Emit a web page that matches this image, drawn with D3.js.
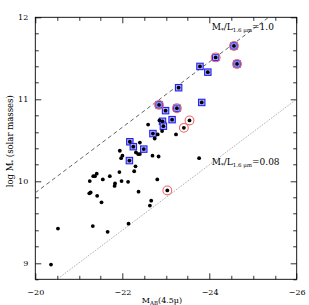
<!DOCTYPE html>
<html>
<head>
<meta charset="utf-8">
<script src="https://cdn.jsdelivr.net/npm/d3@7"></script>
<style>
body { margin: 0; background: #fff; }
text { font-family: "DejaVu Serif", "Liberation Serif", serif; fill: #000; }
</style>
</head>
<body>
<div id="mass_plot"></div>
<script>
// absolute AB magnitude at 4.5 micron, log stellar mass
var mag_ab = [-24.56, -24.14, -24.63, -23.78, -23.96, -23.29, -23.82, -22.84, -23.25, -22.99,
	-23.54, -23.41, -23.14, -22.92, -22.94, -22.85, -22.70, -22.17, -22.25, -22.49,
	-22.16, -23.03,
	-22.59, -22.91, -22.81, -22.74, -23.23, -22.40, -21.94, -22.00, -21.97, -22.31,
	-22.36, -22.40, -22.69, -22.83, -23.76, -22.30, -22.27, -21.93, -21.71, -21.41,
	-21.37, -21.33, -21.25, -21.55, -21.83, -21.82, -21.98, -22.13, -22.80, -21.27,
	-21.24, -21.42, -21.52, -22.37, -22.66, -22.63, -22.14, -21.32, -21.66, -20.52,
	-20.36];
var log_mass = [11.65, 11.51, 11.43, 11.40, 11.33, 11.14, 10.96, 10.93, 10.89, 10.86,
	10.74, 10.65, 10.75, 10.73, 10.67, 10.74, 10.58, 10.48, 10.42, 10.39,
	10.25, 9.885,
	10.69, 10.61, 10.57, 10.52, 10.57, 10.47, 10.37, 10.31, 10.28, 10.35,
	10.33, 10.33, 10.31, 10.30, 10.28, 10.18, 10.12, 10.11, 10.06, 10.09,
	10.06, 10.06, 10.00, 10.02, 9.97, 9.94, 10.00, 9.99, 10.02, 9.86,
	9.85, 9.82, 9.74, 9.87, 9.76, 9.70, 9.48, 9.45, 9.38, 9.42,
	8.98];
// indices of points marked with a blue square / a red ring
var boxed = [0, 1, 2, 3, 4, 5, 6, 7, 8, 9, 12, 13, 14, 16, 17, 18, 19, 20];
var ringed = [0, 1, 2, 7, 8, 10, 11, 21];

var x_ticks = [-20, -22, -24, -26];
var y_ticks = [9, 10, 11, 12];

// constant M/L lines: log M = -0.4 M_AB + offset
var ml_values = ["1.0", "0.08"];
var ml_offsets = [1.857, 0.6];
var ml_xrange = [[-20, -25.35], [-20, -26]];

var margin = {top: 17.3, right: 12.3, bottom: 25.7, left: 35.3};
var width = 309 - margin.left - margin.right;
var height = 305 - margin.top - margin.bottom;

var x = d3.scaleLinear().domain([-20, -26]).range([0, width]);
var y = d3.scaleLinear().domain([8.8, 12]).range([height, 0]);

var svg = d3.select("#mass_plot").append("svg")
	.attr("width", 309)
	.attr("height", 305)
	.append("g")
	.attr("transform", "translate(" + margin.left + "," + margin.top + ")");

svg.append("clipPath").attr("id", "frame_clip")
	.append("rect").attr("width", width).attr("height", height);

// tick labels through d3 axes, tick marks drawn inward on all four sides
function styleAxis(g){
	g.select(".domain").remove();
	g.selectAll("line").remove();
	g.selectAll("text").style("font-size", "8px");
}

svg.append("g").attr("transform", "translate(0," + height + ")")
	.call(d3.axisBottom(x).tickValues(x_ticks).tickSize(0).tickPadding(10).tickFormat(d3.format("d")))
	.call(styleAxis);
svg.append("g")
	.call(d3.axisLeft(y).tickValues(y_ticks).tickSize(0).tickPadding(7).tickFormat(d3.format("d")))
	.call(styleAxis);

var x_minor = d3.range(-20, -26.01, -0.5);
var y_minor = d3.range(8.8, 12.01, 0.2);
var tick_g = svg.append("g").attr("stroke", "#333").attr("stroke-width", 1);

function tickLen(v, majors){
	return majors.some(function(m){ return Math.abs(m - v) < 1e-6; }) ? 6 : 3.5;
}

var tp = d3.path();
x_minor.forEach(function(v){
	var px = Math.round(x(v)) + 0.5, len = tickLen(v, x_ticks);
	tp.moveTo(px, height); tp.lineTo(px, height - len);
	tp.moveTo(px, 0); tp.lineTo(px, len);
});
y_minor.forEach(function(v){
	var py = Math.round(y(v)) + 0.5, len = tickLen(v, y_ticks);
	tp.moveTo(0, py); tp.lineTo(len, py);
	tp.moveTo(width, py); tp.lineTo(width - len, py);
});
tick_g.append("path").attr("d", tp.toString()).attr("fill", "none");

svg.append("rect")
	.attr("width", width).attr("height", height)
	.attr("fill", "none").attr("stroke", "#000").attr("stroke-width", 0.9);

// M/L lines
var ml_line = d3.line()
	.x(function(d){ return x(d[0]); })
	.y(function(d){ return y(d[1]); });

ml_offsets.forEach(function(off, i){
	var pts = ml_xrange[i].map(function(m){ return [m, -0.4 * m + off]; });
	svg.append("path")
		.attr("d", ml_line(pts))
		.attr("clip-path", "url(#frame_clip)")
		.attr("fill", "none")
		.attr("stroke", i == 0 ? "#555" : "#888")
		.attr("stroke-width", i == 0 ? 0.9 : 0.8)
		.attr("stroke-dasharray", i == 0 ? "4,3" : "1,1.2");
});

var label_pos = [[-24.05, 11.85], [-24.05, 10.2]];
ml_values.forEach(function(v, i){
	var t = svg.append("text")
		.attr("x", x(label_pos[i][0]))
		.attr("y", y(label_pos[i][1]))
		.style("font-size", "9px");
	t.append("tspan").text("M");
	t.append("tspan").attr("dy", 2).style("font-size", "5.5px").text("*");
	t.append("tspan").attr("dy", -2).text("/L");
	t.append("tspan").attr("dy", 2).style("font-size", "5.5px").text("1.6 \u03bcm");
	t.append("tspan").attr("dy", -2).text("=" + v);
});

// points
var points = mag_ab.map(function(m, i){ return {mag: m, mass: log_mass[i]}; });

svg.selectAll(".box")
	.data(boxed.map(function(i){ return points[i]; }))
	.enter().append("rect")
	.attr("class", "box")
	.attr("x", function(d){ return x(d.mag) - 3.2; })
	.attr("y", function(d){ return y(d.mass) - 3.2; })
	.attr("width", 6.4).attr("height", 6.4)
	.attr("fill", "#aaaaff")
	.attr("stroke", "#2424f0")
	.attr("stroke-width", 1.1);

svg.selectAll(".ring")
	.data(ringed.map(function(i){ return points[i]; }))
	.enter().append("circle")
	.attr("class", "ring")
	.attr("cx", function(d){ return x(d.mag); })
	.attr("cy", function(d){ return y(d.mass); })
	.attr("r", 4.4)
	.attr("fill", "none")
	.attr("stroke", "#f06a6a")
	.attr("stroke-width", 1.1);

svg.selectAll(".dot")
	.data(points)
	.enter().append("circle")
	.attr("class", "dot")
	.attr("cx", function(d){ return x(d.mag); })
	.attr("cy", function(d){ return y(d.mass); })
	.attr("r", 1.9)
	.attr("fill", "#000");

// axis titles
var xt = svg.append("text")
	.attr("x", width / 2 - 4)
	.attr("y", height + 23.5)
	.attr("text-anchor", "middle")
	.style("font-size", "8px");
xt.append("tspan").text("M");
xt.append("tspan").attr("dy", 2).style("font-size", "5.5px").text("AB");
xt.append("tspan").attr("dy", -2).text("(4.5\u03bc)");

var yt = svg.append("text")
	.attr("transform", "translate(" + (-22.5) + "," + (height / 2 - 7) + ") rotate(-90)")
	.attr("text-anchor", "middle")
	.style("font-size", "8.5px");
yt.append("tspan").text("log M");
yt.append("tspan").attr("dy", 2).style("font-size", "5.5px").text("*");
yt.append("tspan").attr("dy", -2).text(" (solar masses)");
</script>
</body>
</html>
